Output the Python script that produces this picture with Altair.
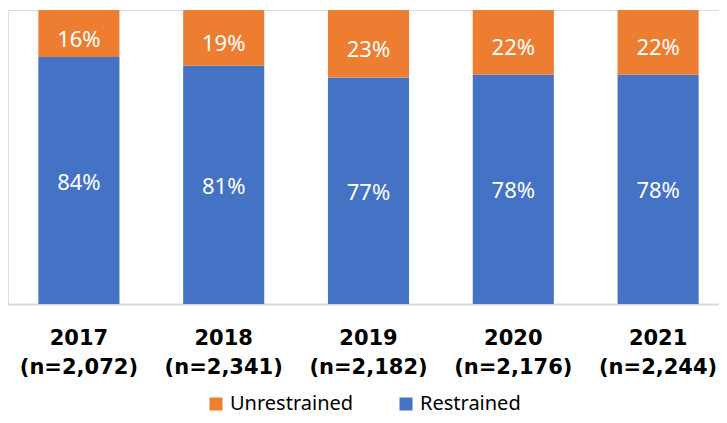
import altair as alt
import pandas as pd

years = ["2017", "2018", "2019", "2020", "2021"]
ns = ["(n=2,072)", "(n=2,341)", "(n=2,182)", "(n=2,176)", "(n=2,244)"]
restrained = [84, 81, 77, 78, 78]
unrestrained = [16, 19, 23, 22, 22]
series = ["Unrestrained", "Restrained"]
colors = ["#ED7D31", "#4472C4"]

rows = []
for y, n, r, u in zip(years, ns, restrained, unrestrained):
    cat = y + "|" + n
    rows.append({"cat": cat, "series": "Restrained", "value": r, "ord": 0})
    rows.append({"cat": cat, "series": "Unrestrained", "value": u, "ord": 1})
df = pd.DataFrame(rows)
cats = [y + "|" + n for y, n in zip(years, ns)]

base = alt.Chart(df).transform_stack(
    stack="value", groupby=["cat"], as_=["y0", "y1"],
    sort=[alt.SortField("ord", order="ascending")]
).transform_calculate(mid="(datum.y0 + datum.y1) / 2", label="datum.value + '%'")

xscale = alt.Scale(paddingInner=0.44, paddingOuter=0.22, range=[-1.5, 722.5])
yscale = alt.Scale(domain=[0, 100])

xenc = alt.X(
    "cat:N", sort=cats, title=None, scale=xscale,
    axis=alt.Axis(
        labelExpr="split(datum.value, '|')", labelAngle=0,
        labelFont="DejaVu Sans", labelFontWeight="bold", labelFontSize=21,
        labelColor="#000000", labelLineHeight=29, labelPadding=23,
        labelBaseline="top", ticks=False, domainColor="#d9d9d9", domainWidth=2,
        labelOverlap=False,
    ),
)

bars = base.mark_bar().encode(
    x=xenc,
    y=alt.Y("y0:Q", scale=yscale, axis=None),
    y2="y1:Q",
    color=alt.Color(
        "series:N",
        scale=alt.Scale(domain=series, range=colors),
        legend=alt.Legend(
            title=None, orient="none", direction="horizontal",
            legendX=198, legendY=384, symbolType="square", symbolSize=169,
            symbolStrokeWidth=0, labelFont="Noto Sans", labelFontSize=20,
            labelColor="#000000", columnPadding=42, labelOffset=4, padding=0,
        ),
    ),
)

labels_blue = base.transform_filter("datum.series == 'Restrained'").mark_text(
    color="white", font="Noto Sans", fontSize=22, baseline="middle", dy=2
).encode(
    x=alt.X("cat:N", sort=cats, scale=xscale),
    y=alt.Y("mid:Q", scale=yscale),
    text=alt.Text("label:N"),
)

labels_orange = base.transform_filter("datum.series == 'Unrestrained'").mark_text(
    color="white", font="Noto Sans", fontSize=22, baseline="middle", dy=6
).encode(
    x=alt.X("cat:N", sort=cats, scale=xscale),
    y=alt.Y("mid:Q", scale=yscale),
    text=alt.Text("label:N"),
)

chart = alt.layer(bars, labels_blue, labels_orange).properties(
    width=711, height=294,
    padding={"top": 2, "left": 0, "right": 0, "bottom": 111},
    autosize=alt.AutoSizeParams(type="none"),
).configure_view(stroke=None).configure(background="white")

chart.save("out.html", embed_options={"renderer": "svg", "actions": False})
